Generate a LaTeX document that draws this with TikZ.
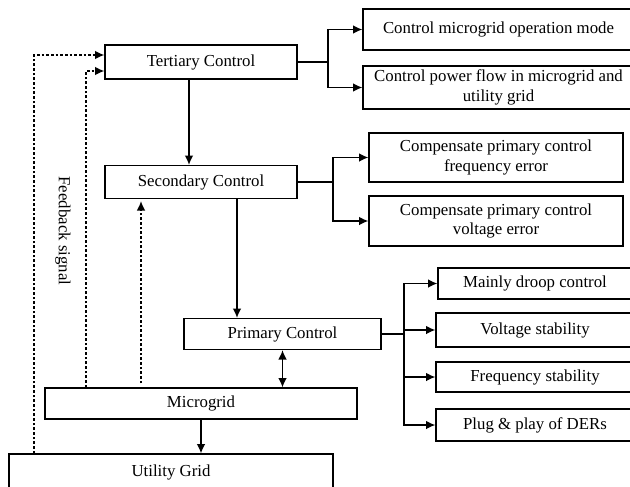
\documentclass[tikz,border=0pt]{standalone}
\usepackage{fontspec}
\setmainfont{Liberation Serif}
\usetikzlibrary{arrows.meta}
\begin{document}
\begin{tikzpicture}[x=0.75pt,y=-0.75pt,>={Latex[length=7pt,width=6.5pt]},line width=1pt]
\tikzstyle{every node}+=[inner sep=0pt,font=\fontsize{12.6}{14.5}\selectfont]
\tikzstyle{box}=[draw,rectangle,align=center]
\tikzstyle{fb}=[dash pattern=on 2pt off 1.5pt]
\useasboundingbox (0,0) rectangle (630,486);
\clip (0,0) rectangle (630,486);
\node [box,minimum width=144pt,minimum height=25.5pt] (tert) at (201,62) {Tertiary Control};
\node [box,minimum width=144pt,minimum height=24.75pt] (sec) at (201,182) {Secondary Control};
\node [box,minimum width=147.75pt,minimum height=23.25pt] (prim) at (282.5,334) {Primary Control};
\node [box,minimum width=234pt,minimum height=23.25pt] (micro) at (201,403.5) {Microgrid};
\node [box,minimum width=243pt,minimum height=27pt] (util) at (171,472) {Utility Grid};
\node [box,minimum width=203.25pt,minimum height=30.75pt] (r1) at (498.5,29.5) {Control microgrid operation mode};
\node [box,minimum width=203.25pt,minimum height=32.25pt] (r2) at (498.5,87.5) {Control power flow in microgrid and\\utility grid};
\node [box,minimum width=190.5pt,minimum height=36.75pt] (r3) at (496,157.5) {Compensate primary control\\frequency error};
\node [box,minimum width=190.5pt,minimum height=37.5pt] (r4) at (496,221) {Compensate primary control\\voltage error};
\node [box,minimum width=145.5pt,minimum height=23.25pt] (p1) at (535,283.5) {Mainly droop control};
\node [box,minimum width=148.5pt,minimum height=25.5pt] (p2) at (535,330) {Voltage stability};
\node [box,minimum width=148.5pt,minimum height=22.5pt] (p3) at (535,377) {Frequency stability};
\node [box,minimum width=148.5pt,minimum height=24pt] (p4) at (535,425) {Plug \& play of DERs};
\node [rotate=-90] (fbl) at (63,231) {Feedback signal};
\coordinate (tb) at (328,62);
\coordinate (sb) at (333,182);
\coordinate (pb) at (404,334);
\coordinate (ts) at (189,0);
\coordinate (ss) at (237,0);
\coordinate (f1) at (34,0);
\coordinate (f2) at (86,0);
\coordinate (f3) at (141,0);
\draw (tert.east) -- (tb);
\draw [->] (tb) |- (r1.west);
\draw [->] (tb) |- (r2.west);
\draw (sec.east) -- (sb);
\draw [->] (sb) |- (r3.west);
\draw [->] (sb) |- (r4.west);
\draw (prim.east) -- (pb);
\foreach \n in {p1,p2,p3,p4}
  \draw [->] (pb) |- (\n.west);
\draw [->] (tert.south -| ts) -- (sec.north -| ts);
\draw [->] (sec.south -| ss) -- (prim.north -| ss);
\draw [<->] (prim.south) -- (prim.south |- micro.north);
\draw [->] (micro.south) -- (micro.south |- util.north);
\draw [fb,->] (util.north -| f1) |- ([yshift=5.25pt]tert.west);
\draw [fb,->] (micro.north -| f2) |- ([yshift=-6.75pt]tert.west);
\draw [fb,->,shorten <=3pt,shorten >=1.5pt] (micro.north -| f3) -- (sec.south -| f3);
\end{tikzpicture}
\end{document}
